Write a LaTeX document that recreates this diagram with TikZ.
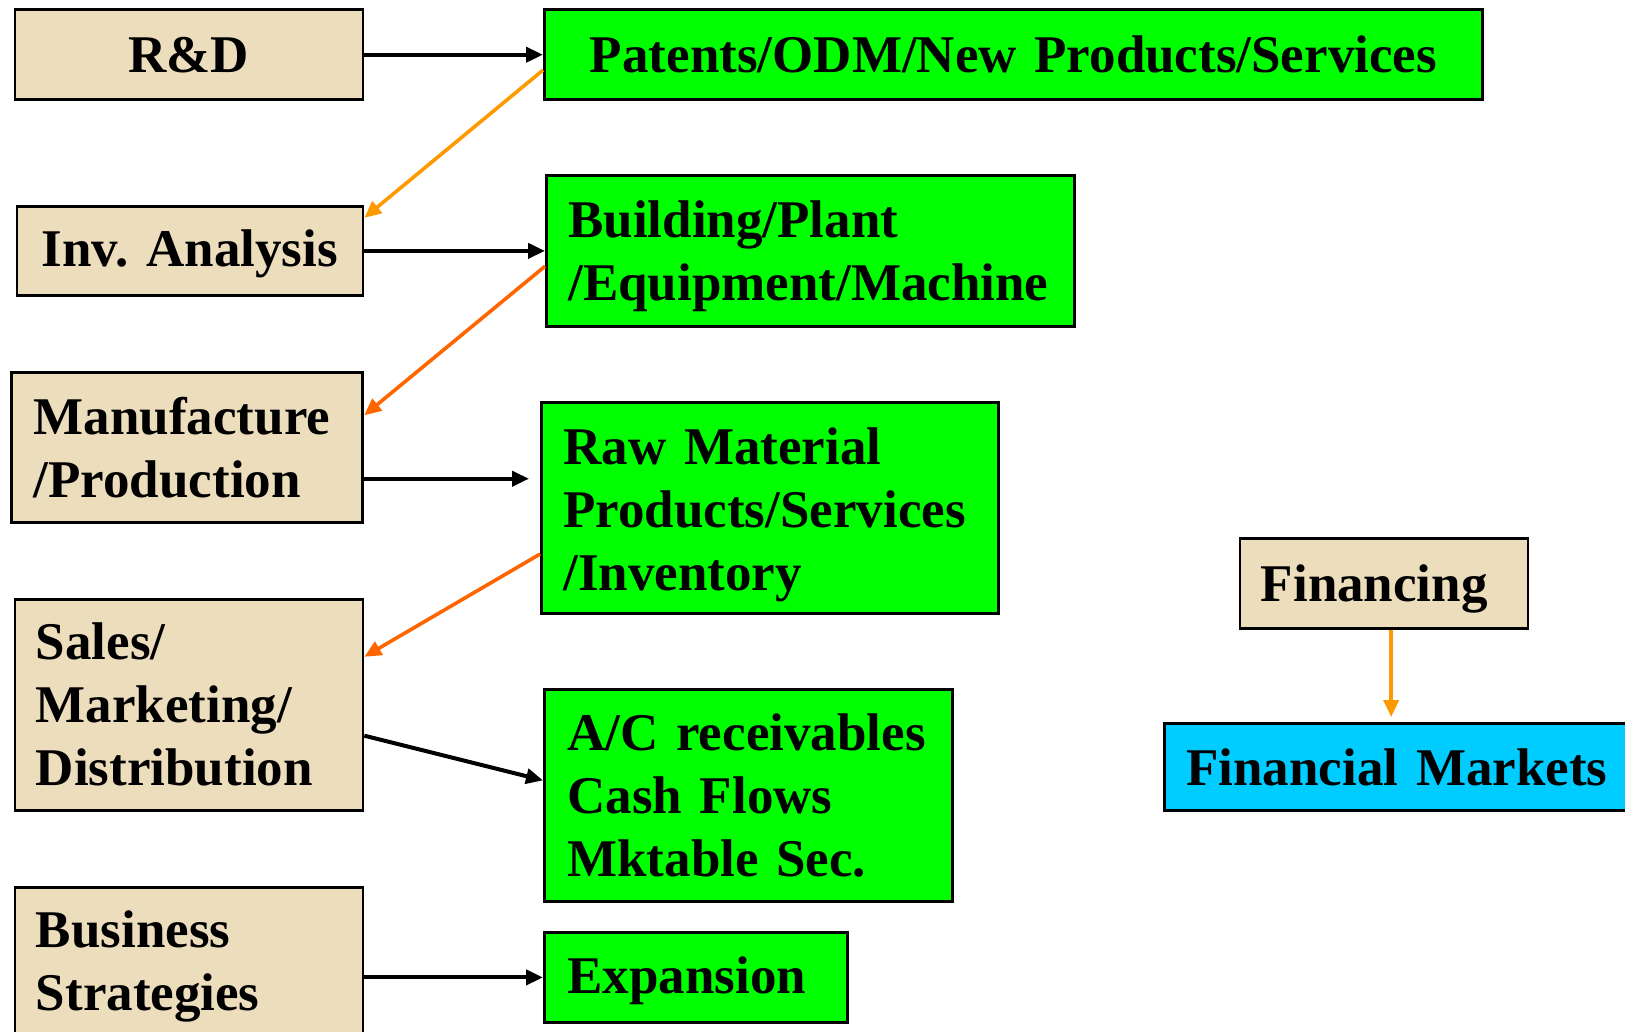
\documentclass[tikz,border=0pt]{standalone}
\usepackage{fontspec}
\setmainfont{Liberation Serif}
\usetikzlibrary{arrows.meta,calc}
\definecolor{tanc}{RGB}{236,221,189}
\definecolor{grnc}{RGB}{0,255,0}
\definecolor{bluc}{RGB}{0,204,255}
\definecolor{orA}{RGB}{255,153,0}
\definecolor{orB}{RGB}{255,102,0}
\frenchspacing
\begin{document}
\begin{tikzpicture}[x=1pt,y=-1pt,
  box/.style={draw=black, line width=2.8pt, inner ysep=0pt, anchor=north west,
    font=\fontsize{53}{63}\selectfont\bfseries\frenchspacing},
  dn/.style={execute at begin node={\rule{0pt}{#1}}},
  tanbox/.style={box, fill=tanc},
  grnbox/.style={box, fill=grnc},
  blubox/.style={box, fill=bluc},
  blk/.style={line width=4pt, -{Triangle[length=17pt,width=15pt]}},
  ora/.style={line width=3.6pt, orA, -{Triangle[length=17pt,width=15pt]}},
  orb/.style={line width=3.6pt, orB, -{Triangle[length=17pt,width=15pt]}}]
\useasboundingbox (0,0) rectangle (1625,1031);
\begin{scope}
\clip (0,0) rectangle (1625,1031);
% left column
\node[tanbox, minimum width=348pt, minimum height=90pt, text width=348pt, inner xsep=0pt, align=center] (rd) at (13.5,8.3) {R\&D};
\node[tanbox, minimum width=346pt, minimum height=89pt, text width=346pt, inner xsep=0pt, align=center, dn=43pt] (inv) at (15.5,205) {Inv. Analysis};
\node[tanbox, minimum width=351pt, minimum height=150pt, text width=307pt, inner xsep=22pt, align=left] (man) at (10.4,371) {Manufacture\\/Production};
\node[tanbox, minimum width=348pt, minimum height=211pt, text width=306pt, inner xsep=21pt, align=left] (sal) at (13.5,598) {Sales/\\Marketing/\\Distribution};
\node[tanbox, minimum width=348pt, minimum height=154pt, text width=306pt, inner xsep=21pt, align=left, dn=41pt] (bus) at (13.5,886) {Business\\Strategies};
% middle column
\node[grnbox, minimum width=938pt, minimum height=90pt, text width=938pt, inner xsep=0pt, align=center] (pat) at (543,8.3) {Patents/ODM/New Products/Services};
\node[grnbox, minimum width=528pt, minimum height=151pt, text width=484pt, inner xsep=22pt, align=left, dn=47pt] (bld) at (545,174) {Building/Plant\\/Equipment/Machine};
\node[grnbox, minimum width=457pt, minimum height=211pt, text width=413pt, inner xsep=22pt, align=left, dn=51pt] (raw) at (540,401) {Raw Material\\Products/Services\\/Inventory};
\node[grnbox, minimum width=408pt, minimum height=212pt, text width=362pt, inner xsep=23pt, align=left] (ac) at (543,688) {A/C receivables\\Cash Flows\\Mktable Sec.};
\node[grnbox, minimum width=303pt, minimum height=90pt, text width=257pt, inner xsep=23pt, align=left, dn=43pt] (exp) at (543,931) {Expansion};
% right
\node[tanbox, minimum width=288pt, minimum height=90pt, text width=246pt, inner xsep=21pt, align=left, dn=47pt] (fin) at (1238.5,537) {Financing};
\node[blubox, minimum width=477pt, minimum height=87pt, text width=433pt, inner xsep=22pt, align=left] (fm) at (1163,722) {Financial Markets};
\end{scope}
% connectors
\draw[blk] (rd.east) -- (rd.east -| pat.west);
\draw[blk] (inv.east) -- (inv.east -| bld.west);
\coordinate (mstart) at ($(man.south east)!0.295!(man.north east)$);
\coordinate (mend) at ([xshift=-11pt]raw.west |- mstart);
\draw[blk] (mstart) -- (mend);
\draw[blk] ($(sal.north east)!0.644!(sal.south east)$) -- ($(ac.north west)!0.43!(ac.south west)$);
\draw[blk] (bus.east |- exp.west) -- (exp.west);
\draw[ora] ($(pat.north west)!0.666!(pat.south west)$) -- ($(inv.north east)!0.14!(inv.south east)$);
\draw[orb] ($(bld.north west)!0.6!(bld.south west)$) -- ($(man.north east)!0.29!(man.south east)$);
\draw[orb] ($(raw.north west)!0.716!(raw.south west)$) -- ($(sal.north east)!0.275!(sal.south east)$);
\coordinate (fstart) at ($(fin.south west)!0.525!(fin.south east)$);
\coordinate (fend) at ([yshift=5pt]fm.north -| fstart);
\draw[ora] (fstart) -- (fend);
\end{tikzpicture}
\end{document}
